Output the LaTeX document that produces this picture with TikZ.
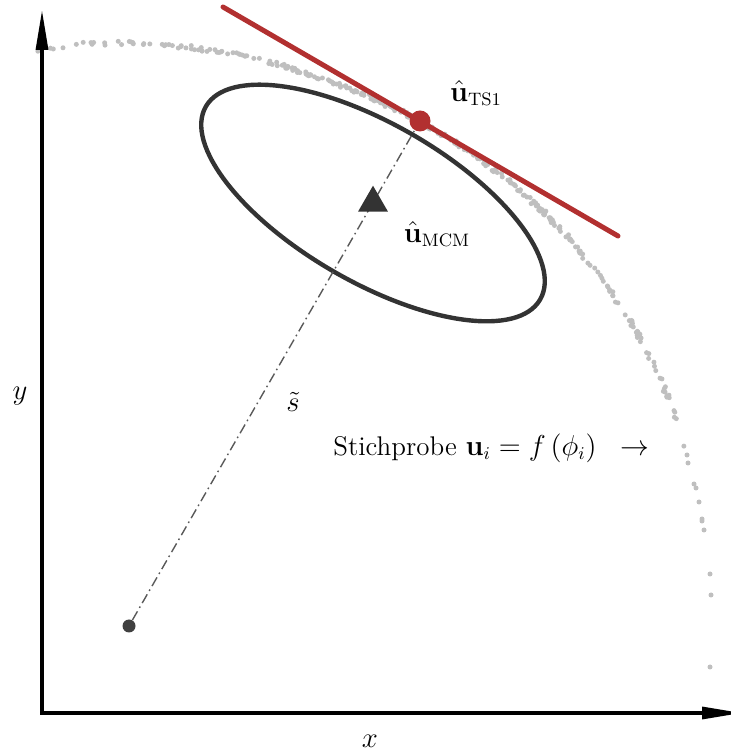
\documentclass[tikz,border=0pt]{standalone}
\usepackage{amsmath,amssymb}
\usepackage{tikz}
\usetikzlibrary{arrows.meta,shapes.geometric}

\begin{document}
\begin{tikzpicture}[x=0.5pt, y=0.5pt, >={Triangle[length=20pt,width=6pt]},
  font=\fontsize{13.5}{16}\selectfont,
  lbl/.style={inner sep=0pt},
  sample/.style={fill=black!25, draw=none}]
  \definecolor{tsred}{RGB}{178,48,48}
  \colorlet{dark}{black!80}
  \useasboundingbox (-42,-40) rectangle (689,713);

  % Stichprobe entlang der Grenzzustandskurve
  \pgfmathsetseed{11}
  \foreach \k in {1,...,330} {
    \pgfmathsetmacro\t{58+20*(rand+rand+rand)}
    \pgfmathtruncatemacro\ok{(\t>17)&&(\t<99)}
    \ifnum\ok=1
      \pgfmathsetmacro\q{0.838+0.00118*(\t-16.4)+0.00332*max(\t-59.5,0)}
      \pgfmathsetmacro\sx{78+591*cos(\t)+2*rand}
      \pgfmathsetmacro\sy{40+630*pow(sin(\t),\q)+2*rand}
      \fill[sample] (\sx,\sy) circle[radius=1.25pt];
    \fi
  }
  \foreach \sx/\sy in {645/258, 646/250, 652/229, 654/225, 657/211, 660/194,
                      660/192, 662/183, 668/139, 669/118, 668/46}
    \fill[sample] (\sx,\sy) circle[radius=1.25pt];

  % Achsen
  \coordinate (O) at (0,0);
  \coordinate (xend) at (700,0);
  \coordinate (yend) at (0,703);
  \draw[<->, line width=1.6pt] (yend) -- (O) -- (xend);
  \node[lbl] (xlab) at (328,-28) {$x$};
  \node[lbl] (ylab) at (-22,317) {$y$};

  % Ellipse um MCM
  \coordinate (mcmc) at (331,510);
  \draw[dark, line width=2.2pt, rotate around={-30:(mcmc)}]
    (mcmc) ellipse [x radius=96.5pt, y radius=39.5pt];

  % Tangente in TS1
  \coordinate (tA) at (181,706);
  \coordinate (tB) at (576,477);
  \draw[tsred, line width=2.5pt, line cap=round] (tA) -- (tB);

  \node[circle, fill=black!75, inner sep=0pt, minimum size=6.5pt] (start) at (87,87) {};
  \node[circle, fill=tsred, inner sep=0pt, minimum size=10.5pt] (ts1) at (378,592) {};
  \draw[black!65, line width=0.7pt, dash pattern=on 5pt off 2pt on 0.8pt off 2pt]
    (start) -- (ts1);
  \node[regular polygon, regular polygon sides=3, fill=dark, inner sep=0pt,
    minimum size=17.3pt] (mcm) at (mcmc) {};

  % Beschriftungen
  \node[lbl] (ts1lab) at (434,620) {$\hat{\mathbf{u}}_{\mathrm{TS1}}$};
  \node[lbl] (mcmlab) at (395,479) {$\hat{\mathbf{u}}_{\mathrm{MCM}}$};
  \node[lbl] (slab) at (251,311) {$\tilde{s}$};
  \node[lbl, anchor=west] (smplab) at (291,265)
    {Stichprobe $\mathbf{u}_i = f\left(\phi_i\right) \;\; \rightarrow$};
\end{tikzpicture}
\end{document}
